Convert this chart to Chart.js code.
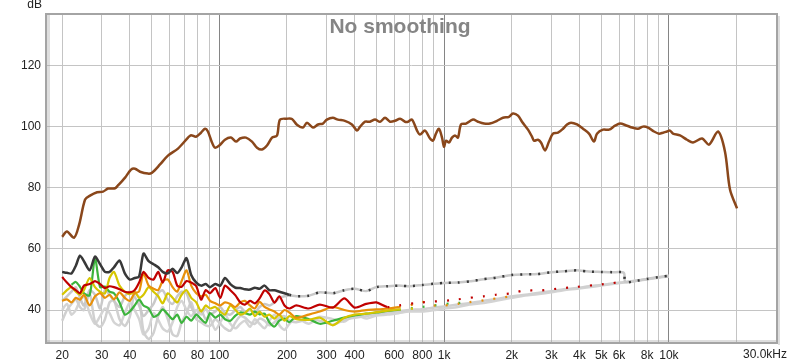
<!DOCTYPE html>
<html>
<head>
<meta charset="utf-8">
<script src="https://cdn.jsdelivr.net/npm/chart.js@4.4.1/dist/chart.umd.min.js"></script>
<style>
    html, body { margin: 0; padding: 0; background: #ffffff; }
</style>
</head>
<body>
<canvas id="response_chart" width="800" height="364"></canvas>
<script>
"use strict";
// Axis ticks
const x_tick_values = [20, 30, 40, 50, 60, 70, 80, 90, 100, 200, 300, 400, 500, 600, 700, 800, 900, 1000, 2000, 3000, 4000, 5000, 6000, 7000, 8000, 9000, 10000, 20000];
const x_tick_labels = ["20", "30", "40", "", "60", "", "80", "", "100", "200", "300", "400", "", "600", "", "800", "", "1k", "2k", "3k", "4k", "5k", "6k", "", "8k", "", "10k", ""];
const y_tick_values = [40, 60, 80, 100, 120];

// Main response (brown)
const response_freq = [20, 21, 22.6, 23.8, 25.3, 26.6, 28.6, 30.4, 32, 34.4, 35.4, 38.1, 40.5, 42.2, 44.4, 48.2, 50.2, 54.5, 59.1, 65.5, 72.6, 74.8, 78.8, 82.9, 86.4, 89, 92.8, 95.7, 100, 106, 112.7, 118.7, 123.6, 131.5, 139.8, 147.2, 154.9, 163, 171.6, 180.6, 186.2, 200, 210.6, 221.6, 235.6, 245.5, 261, 275, 289, 301, 320, 337, 362, 389, 410, 423, 445, 468, 493, 519, 546, 575, 605, 637, 670, 691, 720, 758, 781, 822, 866, 893, 920, 949, 979, 999, 1020, 1052, 1084, 1118, 1153, 1189, 1252, 1345, 1415, 1505, 1600, 1719, 1828, 1944, 2025, 2132, 2221, 2362, 2460, 2511, 2616, 2698, 2811, 2929, 3051, 3211, 3381, 3523, 3670, 3903, 4149, 4412, 4643, 4788, 5092, 5415, 5758, 6061, 6512, 6854, 7289, 7672, 8074, 8585, 9036, 9415, 9806, 10113, 10428, 11203, 12035, 12800, 14037, 15083, 16537, 17764, 18697, 20091];
const response_db = [64, 65.7, 63.7, 68, 76.2, 77.5, 78.6, 78.8, 79.8, 79.9, 80.8, 83.4, 86, 86.3, 85.3, 84.7, 85, 87.7, 90.6, 92.9, 96.5, 97.3, 96.8, 98.1, 99.4, 98.5, 94.9, 93.2, 93.9, 95.8, 96.5, 95.2, 96.2, 96.5, 95.2, 93.2, 92.6, 93.9, 96.5, 97.2, 102.4, 102.7, 102.6, 100.7, 99.8, 101.4, 99.8, 100.8, 101.1, 102.4, 103, 102.4, 102, 100.8, 98.8, 100.1, 101.7, 101.7, 102.4, 101.7, 103, 101.7, 102, 102.7, 101.7, 101.7, 102.4, 98.8, 97.5, 98.8, 96.2, 95.5, 97.8, 99.4, 96.5, 93.5, 95.5, 94.9, 96.5, 97.2, 96.5, 100.8, 101.1, 102.4, 101.7, 101.1, 101.1, 102, 103, 103.3, 104.4, 103.7, 101.7, 99.1, 96.8, 95.5, 95.8, 94.9, 92.3, 95.2, 97.8, 98.1, 99.4, 100.8, 101.4, 100.8, 99.4, 97.8, 95.2, 97.8, 99.1, 99.1, 100.4, 101.1, 100.4, 99.8, 99.4, 100.1, 99.8, 98.5, 97.8, 98.1, 98.5, 98.8, 97.8, 97.2, 95.8, 94.9, 96.2, 94.2, 98.5, 91.9, 79.5, 73.3];

// Distortion / noise traces (shared frequency grid, null = no data)
const dist_freq = [20, 21, 22, 23, 24, 25, 26.5, 28, 29.5, 31, 32.5, 34, 36, 38, 40, 42, 44, 46, 48.5, 51, 53.5, 56, 59, 62, 65, 68, 71.5, 75, 79, 83, 87, 91, 96, 101, 106, 112, 118, 124, 130, 137, 144, 151, 159, 167, 176, 185, 195, 205, 220, 250, 280, 320, 360, 400, 450, 500, 560, 630, 700, 800, 900, 1000, 1150, 1300, 1500, 1700, 2000, 2300, 2600, 3000, 3400, 3900, 4400, 5000, 5600, 6300, 6400, 7200, 8000, 9000, 10000];
const thd_db = [52.5, 52.2, 52, 54.5, 57.8, 56, 53, 57.5, 55, 52.5, 52.5, 54, 56.2, 52, 50, 50.5, 51, 58.5, 56, 55, 54, 52.5, 52, 53.5, 52.1, 54, 57, 51.5, 49, 48, 48.5, 47.5, 48.5, 48, 50.5, 48.5, 47.3, 47.2, 46.8, 46.7, 47.3, 47, 48, 46.5, 46.5, 46, 45.5, 45,
    44.5, 44.7, 45.8, 45.5, 46.5, 47, 46.2, 47.5, 47.8, 48, 47.8, 48.2, 48.6, 48.9, 49, 49.4, 50.1, 50.6, 51.5, 51.7, 51.8, 52.4, 52.7, 53, 52.6, 52.5, 52.4, 52.2, 49.2, 49.6, 50.2, 50.8, 51.2];
const h2_db = [50.8, 49, 47.5, 46.5, 45.5, 48, 48.5, 49.5, 48.5, 47.2, 47.8, 47.5, 46.8, 46, 45.8, 46.5, 49, 52.5, 50.5, 50, 52.5, 49, 53, 52.5, 48, 47.6, 49.5, 49, 47.8, 43.4, 46.5, 45.5, 47.2, 44, 48, 46.5, 44.8, 42.5, 41.8, 43, 42.2, 43.8, 46.4, 45.2, 42.4, 44.5, 41.5, 40.5,
    41.5, 40.5, 41.8, 40.8, 43.8, 40.8, 42, 42.5, 41, 41.5, 42, 42.5, 42.8, 43, 43.5, 44, 44.5, 45, 45.5, 46.5, 46.3, 46.8, 47.2, 47.6, 48, 48.4, 48.8, 49.4, null, null, null, null, null];
const h3_db = [43, 43.5, 42.5, 44, 43.4, 45, 41.5, 44.5, 45.5, 44, 45, 43.5, 45.8, 44, 43, 45.5, 46.1, 52, 48, 47, 46.5, 49.5, 50, 47.5, 46, 49.5, 53, 48, 45.5, 44.5, 45, 43, 42.2, 41.5, 42.5, 42, 41, 42.5, 43, 41.5, 40.5, 42.7, 41, 40.2, 39.5, 38.5, 40, 39.2,
    37.5, 38.5, 39.5, 41, 40, 39.5, 40, 40.2, 40.5, 41, 41.5, 42.7, 41.5, 41.5, 42, 42.6, 43.2, 43.8, 44.5, null, null, null, null, null, null, null, null, null, null, null, null, null, null, null];
const h4_db = [45, 46.5, 47.5, 46, 45, 46.5, 50.5, 47.5, 46, 45.5, 50.5, 52.5, 48, 46, 45.2, 46, 44, 45, 47.5, 46, 44.5, 42.2, 45.5, 44, 42.5, 45, 46.5, 44, 42.5, 39.5, 41.5, 40.5, 41, 39.5, 38.5, 41.5, 40, 38.5, 39, 40.5, 38, 39.5, 37.8, 38.5, 37.2, 38.5, 36.5, 38,
    37, 36.8, 37.5, 35, 37.5, 38.5, 38.8, 39.3, 39.8, 40.2, 40.4, 40.6, null, null, null, null, null, null, null, null, null, null, null, null, null, null, null, null, null, null, null, null, null];
const h5_db = [null, null, 48.3, 49.2, 47.6, 45.5, 44.8, 57, 47.5, 47.7, 46, 45.5, 42.5, 38.5, 39.5, 41.5, 43.4, 41.5, 40.5, 37.8, 38.5, 40.2, 38.6, 37, 38.5, 35.8, 37.8, 36.5, 38.5, 37, 35.8, 39, 37.5, 38.5, 37, 36.5, 38.2, 39.2, 39, 38.5, 39.5, 38.6, 38.8, 36, 34.6, 36.5, 37.2, 36,
    38, 37, 35.5, 36.5, 37.5, 38.2, 38.8, 39.2, 39.7, 40.1, 40.5, 41, 41.5, 42, 42.3, 42.7, null, null, null, null, null, null, null, null, null, null, null, null, null, null, null, null, null];
const noise_a_db = [43, 44.5, 46, 47.5, 44, 41.5, 46.5, 45, 40.5, 46.6, 45, 43, 41, 44.5, 46, 44.4, 41.5, 38, 40, 42, 45.5, 46.5, 43.4, 42, 44.5, 46, 45.5, 41, 38.5, 40, 37, 38.5, 39.5, 41, 39, 38.5, 40, 41, 39.5, 40, 39, 41, 42, 41.5, 42.5, 44, 44.5, 44.8,
    44.5, 44.7, 45.8, 45.5, 46.5, 47, 46.2, 47.5, 47.8, 48, 47.8, 48.2, 48.6, 48.9, 49, 49.4, 50.1, 50.6, 51.5, 51.7, 51.8, 52.4, 52.7, 53, 52.6, 52.5, 52.4, 52.2, 49.2, 49.6, 50.2, 50.8, 51.2];
const noise_b_db = [36.5, 40, 42, 43.5, 41, 40, 45.5, 36, 34.5, 37, 42.5, 43.2, 37, 34.8, 37.8, 45.5, 44, 33, 30.5, 32.5, 38, 41, 37, 32, 31.5, 36, 39, 42.5, 37, 36, 35, 34.8, 37, 35.5, 34, 33.2, 36, 38, 37.5, 36, 35.5, 37.2, 36.5, 35, 36, 37.5, 38, 36.5,
    36, 37, 36.5, 35.2, 36.8, 37.5, 38, 38.8, 39.2, 39.6, 40, 40.3, 40.8, 41.2, 41.8, 42.3, 43, 43.6, 44.5, 45, 45.6, 46.2, 46.8, 47.2, 47.8, 48.2, 48.7, 49.1, 49.2, 49.7, 50.2, 50.7, 51.2];
const noise_c_db = [40, 42, 38.5, 40, 43, 44.5, 39, 35.5, 38, 40.5, 39, 36, 35, 39, 42.5, 40, 37, 32, 34, 39, 36.8, 34, 33, 36, 41, 43, 40, 38, 40, 38.5, 40.5, 37.5, 33.5, 36, 38.5, 35.5, 34, 35.5, 36.5, 34.5, 37, 35.5, 34, 36.5, 38.5, 35, 33.5, 35.5,
    37.5, 35.5, 37.8, 37, 36.2, 38.5, 37.2, 38.2, 38.5, 39, 39.5, 39.5, 40, 40.5, 41, 41.8, 42.3, 43, 44, 44.8, 45.2, 45.8, 46.5, 47, 47.5, 48, 48.5, 49, 49.1, 49.6, 50, 50.6, 51];

function toPoints(freqs, values) {
    return freqs.map(function (f, i) {
        return { x: f, y: values[i] };
    });
}

// Dashed from a given frequency upwards (trace mostly hidden behind noise floor)
function dashFrom(freq, dash) {
    return function (ctx) {
        return ctx.p0.parsed.x >= freq ? dash : undefined;
    };
}

function trace(label, values, color, width, order, dash_freq, dash) {
    const ds = {
        label: label,
        data: toPoints(dist_freq, values),
        borderColor: color,
        borderWidth: width,
        pointRadius: 0,
        tension: 0.25,
        spanGaps: false,
        order: order,
    };
    if (dash_freq) {
        ds.segment = { borderDash: dashFrom(dash_freq, dash) };
    }
    return ds;
}

// Frame, title and unit labels
const decorations = {
    id: "decorations",
    afterDraw: function (chart) {
        const { ctx, chartArea } = chart;
        const w = chartArea.right - chartArea.left;
        const h = chartArea.bottom - chartArea.top;
        ctx.save();
        // frame with soft shadow
        ctx.fillStyle = "rgba(160,160,160,0.35)";
        ctx.fillRect(chartArea.left + 1, chartArea.top + 1, 3, h - 1);
        ctx.fillRect(chartArea.left + 1, chartArea.bottom - 3, w - 1, 3);
        ctx.fillRect(chartArea.right + 1, chartArea.top + 2, 2, h);
        ctx.strokeStyle = "#a4a4a4";
        ctx.lineWidth = 2;
        ctx.strokeRect(chartArea.left, chartArea.top, w, h);
        // title
        ctx.fillStyle = "#858585";
        ctx.font = "bold 21px 'Liberation Sans', Arial, sans-serif";
        ctx.textAlign = "center";
        ctx.textBaseline = "middle";
        ctx.fillText("No smoothing", 400, 27);
        // units
        ctx.fillStyle = "#222222";
        ctx.font = "12px 'Liberation Sans', Arial, sans-serif";
        ctx.textAlign = "right";
        ctx.fillText("dB", 42, 5);
        ctx.fillText("30.0kHz", 787, 355);
        ctx.restore();
    }
};

const response_chart = document.querySelector("#response_chart");
new Chart(response_chart, {
    type: "line",
    data: {
        datasets: [
            {
                label: "response",
                data: toPoints(response_freq, response_db),
                borderColor: "#8a471b",
                borderWidth: 2.5,
                pointRadius: 0,
                tension: 0.3,
                order: 0,
            },
            trace("thd", thd_db, "#383838", 2.5, 1, 200, [2, 7]),
            trace("h2", h2_db, "#c00000", 2.2, 2, 560, [2, 10]),
            trace("h3", h3_db, "#e8900a", 2.2, 3, 600, [2, 10]),
            trace("h4", h4_db, "#d6c600", 2.2, 4, 600, [2, 10]),
            trace("h5", h5_db, "#3cb43c", 2.2, 5, 600, [2, 10]),
            trace("noise_a", noise_a_db, "#c9c9c9", 2.5, 6),
            trace("noise_b", noise_b_db, "#d0d0d0", 2.5, 7),
            trace("noise_c", noise_c_db, "#d4d4d4", 2.5, 8),
        ]
    },
    options: {
        responsive: false,
        animation: false,
        events: [],
        layout: {
            padding: { left: 0, right: 23, top: 14, bottom: 0 }
        },
        scales: {
            x: {
                type: "logarithmic",
                min: 16.95,
                max: 30260,
                afterBuildTicks: function (axis) {
                    axis.ticks = x_tick_values.map(function (v) { return { value: v }; });
                },
                afterFit: function (axis) {
                    axis.height = 21;
                },
                border: { display: false },
                grid: {
                    drawTicks: false,
                    lineWidth: 1,
                    color: function (ctx) {
                        const v = ctx.tick ? ctx.tick.value : 0;
                        return (v === 100 || v === 1000 || v === 10000) ? "#858585" : "#c4c4c4";
                    }
                },
                ticks: {
                    autoSkip: false,
                    maxRotation: 0,
                    padding: 5,
                    color: "#222222",
                    font: { family: "'Liberation Sans', Arial, sans-serif", size: 12 },
                    callback: function (value, index) {
                        return x_tick_labels[index];
                    }
                }
            },
            y: {
                min: 29.2,
                max: 137,
                afterBuildTicks: function (axis) {
                    axis.ticks = y_tick_values.map(function (v) { return { value: v }; });
                },
                afterFit: function (axis) {
                    axis.width = 46;
                },
                border: { display: false },
                grid: {
                    drawTicks: false,
                    color: "#c4c4c4",
                    lineWidth: 1,
                },
                ticks: {
                    padding: 5,
                    color: "#222222",
                    font: { family: "'Liberation Sans', Arial, sans-serif", size: 12 },
                }
            }
        },
        plugins: {
            legend: { display: false },
            tooltip: { enabled: false },
            title: { display: false },
        }
    },
    plugins: [decorations],
});
</script>
</body>
</html>
